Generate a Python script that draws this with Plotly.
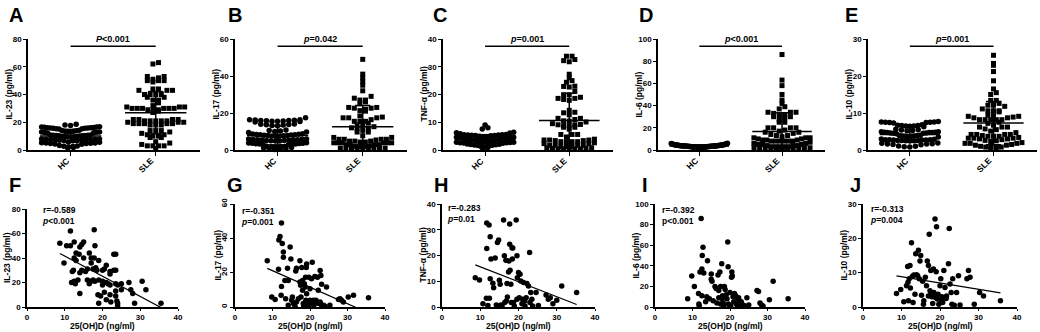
import numpy as np
import plotly.graph_objects as go

# ------------------------------------------------------------------ data
cats = ["HC", "SLE"]

hc_il23 = [18.5, 18.0, 17.6,
           16.5, 16.2, 15.9, 15.6, 16.8, 15.3, 16.0, 16.4, 15.1, 15.8, 16.6, 15.4, 16.1, 15.7,
           13.8, 13.2, 12.9, 13.5, 12.6, 14.0, 13.0, 12.3, 13.6, 12.8, 13.3, 12.5, 14.2,
           10.8, 10.3, 9.9, 10.5, 9.6, 10.9, 10.1, 9.4, 10.6, 9.8, 10.2, 9.5, 10.7, 9.7, 10.4,
           7.9, 7.4, 7.0, 7.6, 6.8, 8.0, 7.2, 6.6, 7.8, 7.1, 7.5, 6.9, 7.7,
           5.5, 5.0, 4.6, 5.3, 4.4, 5.7, 4.9, 4.2, 5.1, 4.7,
           2.9, 2.5, 2.1, 3.2, 1.8, 2.7, 1.5]
hc_il17 = [17.5,
           16.0, 15.8, 15.6, 16.2, 15.4, 16.4, 15.9, 15.2, 16.1, 15.7, 15.5, 16.3,
           13.8, 13.5, 13.2, 14.0, 13.6, 13.1, 13.9,
           10.5, 10.0, 9.7, 10.3, 9.4, 10.8,
           8.4, 8.0, 7.8, 8.2, 7.6, 8.6, 7.9, 8.1, 7.7, 8.3, 7.5, 8.5, 7.4, 8.8,
           5.8, 5.5, 5.2, 5.6, 5.0, 5.9, 5.3, 5.4, 5.1, 5.7, 4.9, 6.0, 4.8, 5.5,
           3.6, 3.4, 3.2, 3.8, 3.0, 3.5, 3.3, 3.7, 3.1, 3.9, 2.9,
           1.8, 1.6, 1.4, 2.0, 1.2, 1.9, 1.5, 1.7,
           0.5, 0.3, 0.6, 0.4]
hc_tnf = [9.0, 8.0, 7.6, 6.4, 6.1, 5.9, 6.2,
          5.4, 5.2, 5.5, 5.0, 5.3, 5.6, 5.1, 5.4, 5.2, 5.5,
          4.6, 4.4, 4.2, 4.7, 4.3, 4.5, 4.1, 4.8, 4.4, 4.6, 4.0, 4.3, 4.5, 4.2,
          3.8, 3.6, 3.4, 3.9, 3.5, 3.7, 3.3, 3.6, 3.8, 3.2, 3.5, 3.7, 3.4, 3.6,
          3.0, 2.8, 2.6, 3.1, 2.7, 2.9, 2.5, 3.0, 2.8, 2.6, 2.4, 2.9,
          2.0, 1.8, 1.6, 2.2, 1.5, 1.9, 1.7, 2.1,
          1.2, 0.9, 1.0, 0.8]
hc_il6 = [6.0, 5.8, 5.5, 5.3, 5.1, 4.9, 4.8, 4.7, 4.6, 4.5, 4.4, 4.3, 4.2, 4.1, 4.0,
          4.0, 3.9, 3.8, 3.8, 3.7, 3.6, 3.6, 3.5, 3.5, 3.4, 3.4, 3.3, 3.3, 3.2, 3.2,
          3.1, 3.1, 3.0, 3.0, 2.9, 2.9, 2.8, 2.8, 2.7, 2.7, 2.6, 2.6, 2.5, 2.5, 2.4,
          4.5, 4.2, 3.9, 3.7, 3.5, 3.3, 3.1, 2.9, 2.7, 2.5, 5.6, 5.2, 4.8, 4.4, 4.1,
          3.9, 3.7, 3.4, 3.2, 3.0, 2.8, 2.6, 2.4, 2.2, 2.0, 1.8]
hc_il10 = [7.6, 7.5, 7.4, 7.7, 7.3, 7.6, 7.5, 7.4,
           6.6, 6.5, 6.4, 6.7, 6.3, 6.6, 6.5, 6.8,
           5.6, 5.4, 5.2, 5.5, 5.3,
           4.8, 4.7, 4.6, 4.9, 4.5, 4.7, 4.8, 4.6, 4.4, 4.9, 4.5, 4.7,
           3.9, 3.8, 3.7, 4.0, 3.6, 3.8, 3.9, 3.7, 3.5,
           2.8, 2.7, 2.6, 2.9, 2.5, 2.7, 2.8, 2.6, 2.4, 3.0, 2.5, 2.7, 2.6, 2.8,
           1.8, 1.6, 1.5, 1.9, 1.4, 1.7, 1.6,
           1.0, 0.9, 0.8, 1.1]

# SLE patients: 25(OH)D (ng/ml) and cytokine level, per correlation panel
vd_f = [8.7, 9.8, 10.5, 11.5, 11.5, 11.8, 12.0, 12.3, 12.5, 12.5, 12.8, 13.0, 13.0, 13.5,
        13.8, 14.0, 14.0, 14.5, 14.5, 15.0, 15.0, 15.5, 16.0, 16.5, 16.5, 17.0, 17.0, 17.5,
        17.8, 17.8, 18.0, 18.0, 18.2, 18.5, 18.8, 19.0, 19.0, 19.0, 19.5, 20.0, 20.0, 20.0,
        20.5, 20.5, 21.0, 21.0, 21.0, 21.5, 22.0, 22.0, 22.0, 22.0, 22.2, 23.0, 23.0, 23.5,
        23.5, 23.5, 23.5, 23.5, 23.8, 24.0, 24.0, 25.0, 25.0, 27.0, 27.5, 28.0, 28.5, 30.5,
        31.5, 35.5, 16.0, 12.5, 14.0, 17.5, 24.0, 17.0]
il23 = [52, 36, 50, 62, 50, 20, 29, 30, 53, 40, 19, 44, 38, 22,
        43, 11, 28, 30, 51, 53, 40, 29, 22, 19, 44, 40, 36, 22,
        63, 40, 50, 21, 32, 30, 10, 38, 22, 3, 9, 21, 30, 18,
        12, 31, 34, 20, 6, 19, 18, 10, 29, 27, 4, 43, 30, 30,
        43, 13, 9, 19, 5, 3, 1, 14, 19, 20, 14, 11, 3, 21,
        14, 3, 31, 21, 49, 31, 18, 21]

vd_g = [8.6, 9.8, 10.7, 11.6, 11.7, 12.0, 12.3, 12.4, 12.4, 12.6, 12.9, 12.9, 13.3, 13.5,
        14.0, 14.2, 14.7, 14.9, 15.1, 15.3, 15.6, 16.0, 16.2, 16.4, 16.4, 16.9, 17.3, 17.3,
        17.5, 17.6, 17.8, 18.0, 18.0, 18.2, 18.3, 18.5, 18.7, 18.8, 18.9, 19.1, 19.1, 19.4,
        19.6, 19.7, 20.0, 20.0, 20.3, 20.4, 20.6, 20.9, 21.0, 21.3, 21.6, 21.8, 22.0, 22.2,
        22.4, 22.7, 22.7, 22.9, 23.1, 23.1, 23.6, 24.0, 24.4, 25.3, 27.6, 28.0, 28.4, 28.9,
        30.2, 31.6, 35.6, 14.2, 19.0]
il17 = [27.0, 5.8, 4.3, 22.0, 39.0, 41.0, 6.8, 12.0, 49.0, 37.0, 32.0, 29.0, 15.5, 4.8,
        22.6, 1.0, 35.0, 28.0, 3.9, 5.8, 2.0, 0.4, 21.0, 22.6, 2.9, 4.8, 27.0, 14.5,
        12.6, 5.8, 23.0, 15.5, 9.7, 2.0, 0.6, 13.5, 11.6, 17.4, 3.9, 25.0, 7.7, 2.9,
        1.0, 17.4, 10.6, 3.9, 2.0, 16.4, 26.0, 3.9, 1.0, 17.8, 3.9, 2.3, 17.4, 9.7,
        2.0, 21.3, 2.9, 18.4, 13.2, 1.0, 1.0, 0.4, 11.6, 1.0, 4.3, 4.8, 3.9, 2.9,
        5.8, 6.8, 5.4, 15.5, 23.0]

vd_h = [8.7, 9.8, 10.7, 11.6, 11.7, 11.7, 12.0, 12.3, 12.4, 12.6, 12.6, 12.8, 13.3, 13.5,
        13.9, 14.2, 14.5, 14.5, 14.8, 15.0, 15.2, 15.4, 15.7, 16.1, 16.3, 16.4, 16.7, 16.8,
        17.0, 17.1, 17.4, 17.5, 17.7, 17.7, 17.8, 18.0, 18.1, 18.3, 18.4, 18.5, 18.7, 18.9,
        19.4, 19.6, 19.6, 19.7, 20.0, 20.2, 20.4, 20.6, 20.9, 21.1, 21.3, 21.6, 21.7, 22.0,
        22.2, 22.6, 22.9, 23.0, 23.2, 23.5, 23.7, 24.6, 25.2, 27.2, 27.8, 28.3, 29.0, 30.0,
        31.3, 35.2]
tnf = [11.4, 10.5, 1.3, 3.4, 32.6, 22.7, 0.6, 31.8, 3.4, 27.3, 11.0, 18.6, 9.2, 7.5,
       19.0, 0.8, 0.4, 25.0, 26.0, 10.4, 8.8, 0.8, 0.4, 33.8, 19.9, 1.7, 18.2, 2.3,
       9.1, 3.9, 13.6, 17.9, 32.2, 24.4, 14.3, 8.8, 1.7, 23.0, 18.6, 22.9, 1.7, 0.4,
       33.8, 19.9, 3.0, 11.4, 13.4, 3.6, 12.7, 10.1, 1.3, 3.0, 9.5, 2.3, 0.4, 3.6,
       9.1, 8.2, 21.2, 1.7, 5.6, 3.0, 0.4, 5.6, 0.6, 4.7, 3.0, 3.6, 1.3, 2.6,
       8.2, 5.6]

vd_i = [8.7, 9.8, 10.5, 11.6, 11.7, 11.8, 12.0, 12.3, 12.5, 12.5, 12.6, 12.8, 13.0, 13.5,
        13.8, 14.0, 14.5, 15.0, 15.0, 15.2, 15.5, 16.0, 16.3, 16.5, 16.8, 17.0, 17.0, 17.3,
        17.5, 17.5, 17.8, 17.9, 18.0, 18.2, 18.3, 18.5, 18.7, 19.0, 19.2, 19.4, 19.5, 19.6,
        19.8, 20.0, 20.2, 20.4, 20.5, 20.6, 20.8, 21.0, 21.2, 21.5, 21.7, 22.0, 22.0, 22.3,
        22.5, 22.8, 23.0, 23.2, 23.5, 24.0, 24.5, 25.0, 27.2, 27.6, 28.0, 28.4, 28.8, 30.5,
        31.5, 35.5]
il6 = [8, 30, 20, 13, 3, 1, 34, 86, 37, 11, 50, 58, 33, 5,
       10, 45, 8, 32, 27, 25, 6, 20, 18, 4, 31, 16, 9, 34,
       20, 3, 42, 8, 11, 4, 1, 20, 17, 12, 8, 63, 39, 3,
       2, 14, 1, 29, 34, 30, 10, 5, 13, 11, 3, 8, 1, 9,
       6, 3, 5, 1, 2, 1, 9, 2, 16, 15, 4, 2, 1, 7,
       25, 8]

vd_j = [8.7, 9.8, 10.6, 11.3, 11.6, 11.7, 11.8, 12.0, 12.2, 12.3, 12.6, 12.8, 13.0, 13.2,
        13.5, 13.7, 13.9, 14.2, 14.4, 14.6, 14.8, 15.0, 15.2, 15.5, 15.7, 15.8, 16.2, 16.5,
        16.7, 17.0, 17.0, 17.2, 17.4, 17.6, 17.7, 17.9, 18.1, 18.3, 18.4, 18.7, 18.8, 19.0,
        19.1, 19.3, 19.5, 19.7, 20.0, 20.2, 20.3, 20.5, 20.7, 20.9, 21.0, 21.3, 21.6, 21.7,
        22.2, 22.4, 22.6, 22.9, 23.1, 23.3, 23.7, 24.3, 24.8, 25.2, 27.0, 27.4, 27.8, 28.9,
        30.3, 31.3, 35.7]
il10 = [3.9, 5.1, 1.5, 6.2, 11.8, 7.2, 1.8, 8.2, 12.1, 5.5, 18.7, 8.9, 1.3, 9.3,
        3.7, 15.5, 9.4, 9.1, 16.5, 8.2, 13.4, 15.0, 3.4, 7.5, 0.8, 1.8, 8.7, 6.2,
        13.4, 12.1, 3.2, 21.2, 4.7, 10.6, 3.7, 3.0, 1.0, 11.1, 4.2, 25.6, 2.8, 10.3,
        23.4, 2.3, 3.7, 0.8, 6.2, 8.2, 2.0, 3.0, 1.3, 2.6, 10.6, 5.7, 2.5, 3.2,
        12.6, 22.9, 6.7, 4.2, 0.8, 8.2, 0.5, 4.2, 9.1, 0.6, 8.2, 10.6, 8.7, 0.8,
        4.2, 3.2, 1.8]

# ------------------------------------------------------------------ layout helpers
W, H = 1040, 332
FONT = "Liberation Sans, Arial, Helvetica, sans-serif"


def xd(a, b):
    return [a / W, b / W]


def yd(top, bottom):
    return [1 - bottom / H, 1 - top / H]


def px_x(a):
    return a / W


def px_y(b):
    return 1 - b / H


def aid(k):
    return "" if k == 1 else str(k)


def swarm(vals, center, ymax, px_unit_x, plot_h=111.0):
    vals = np.asarray(vals, float)
    dy = ymax * 5.2 / plot_h
    dx = 5.6 / px_unit_x
    maxhalf = 0.34
    bins = np.round(vals / dy).astype(int)
    xs = np.zeros_like(vals)
    for b in np.unique(bins):
        idx = np.where(bins == b)[0]
        idx = idx[np.argsort(vals[idx])]
        n = len(idx)
        step = dx if (n - 1) * dx <= 2 * maxhalf else 2 * maxhalf / max(n - 1, 1)
        offs = (np.arange(n) - (n - 1) / 2) * step
        offs = offs[np.argsort(np.abs(offs), kind="stable")]
        xs[idx] = center + offs
    return xs


top_panels = [
    dict(hc=hc_il23, sle=il23, ymax=80, dtick=20, title="IL-23 (pg/ml)",
         p="<i>P</i>&lt;0.001", x0=28, x1=200, letter="A", lx=7, tx=8),
    dict(hc=hc_il17, sle=il17, ymax=60, dtick=20, title="IL-17 (pg/ml)",
         p="<i>p</i>=0.042", x0=235, x1=407, letter="B", lx=226, tx=215),
    dict(hc=hc_tnf, sle=tnf, ymax=40, dtick=10, title="TNF-α (pg/ml)",
         p="<i>p</i>=0.001", x0=443, x1=613, letter="C", lx=431, tx=423),
    dict(hc=hc_il6, sle=il6, ymax=100, dtick=20, title="IL-6 (pg/ml)",
         p="<i>p</i>&lt;0.001", x0=658, x1=825, letter="D", lx=637, tx=638),
    dict(hc=hc_il10, sle=il10, ymax=30, dtick=10, title="IL-10 (pg/ml)",
         p="<i>p</i>=0.001", x0=868, x1=1037, letter="E", lx=843, tx=848),
]

bottom_panels = [
    dict(x=vd_f, y=il23, ymax=80, dtick=20, title="IL-23 (pg/ml)", r="r=-0.589",
         p="<i>p</i>&lt;0.001", x0=27, x1=178, top=209, fit=True, letter="F", lx=7,
         yang=0, tx=7, rx=40, ry=209),
    dict(x=vd_g, y=il17, ymax=60, dtick=20, title="IL-17 (pg/ml)", r="r=-0.351",
         p="<i>p</i>=0.001", x0=235, x1=385, top=204, fit=True, letter="G", lx=225,
         yang=-90, tx=217, rx=239, ry=210),
    dict(x=vd_h, y=tnf, ymax=40, dtick=10, title="TNF-α (pg/ml)", r="r=-0.283",
         p="<i>p</i>=0.01", x0=442, x1=595, top=204, fit=True, letter="H", lx=432,
         yang=0, tx=422, rx=445, ry=207),
    dict(x=vd_i, y=il6, ymax=100, dtick=20, title="IL-6 (pg/ml)", r="r=-0.392",
         p="p&lt;0.001", x0=655, x1=805, top=204, fit=False, letter="I", lx=640,
         yang=0, tx=635, rx=660, ry=209),
    dict(x=vd_j, y=il10, ymax=30, dtick=10, title="IL-10 (pg/ml)", r="r=-0.313",
         p="<i>p</i>=0.004", x0=863, x1=1017, top=204, fit=True, letter="J", lx=848,
         yang=0, tx=843, rx=868, ry=208),
]

fig = go.Figure()
layout = {}
annotations = []
shapes = []

tickfont = dict(family=FONT, size=8, color="black", weight="bold")
TITLE_SIZE = 8.5
XR = [-0.5, 1.52]


def text_ann(x, y, text, size, angle=0, xanchor="center", yanchor="middle"):
    return dict(xref="paper", yref="paper", x=px_x(x), y=px_y(y), text=text,
                showarrow=False, textangle=angle, xanchor=xanchor, yanchor=yanchor,
                font=dict(family=FONT, size=size, color="black"))


for i, p in enumerate(top_panels):
    k = i + 1
    xa, ya = "x" + aid(k), "y" + aid(k)
    px_unit = (p["x1"] - p["x0"]) / (XR[1] - XR[0])
    hc = np.asarray(p["hc"], float)
    sle = np.asarray(p["sle"], float)
    fig.add_trace(go.Scatter(
        x=swarm(hc, 0, p["ymax"], px_unit), y=hc, mode="markers", xaxis=xa, yaxis=ya,
        marker=dict(symbol="circle", size=5.5, color="black"), cliponaxis=False,
        showlegend=False, hoverinfo="y"))
    fig.add_trace(go.Scatter(
        x=swarm(sle, 1, p["ymax"], px_unit), y=sle, mode="markers", xaxis=xa, yaxis=ya,
        marker=dict(symbol="square", size=5, color="black"), cliponaxis=False,
        showlegend=False, hoverinfo="y"))
    # mean +/- SD
    lx, ly = [], []
    for c, v in ((0, hc), (1, sle)):
        m, s = v.mean(), v.std(ddof=1)
        lo = max(m - s, 0)
        lx += [c - 0.36, c + 0.36, None, c, c, None, c - 0.09, c + 0.09, None,
               c - 0.09, c + 0.09, None]
        ly += [m, m, None, lo, m + s, None, m + s, m + s, None, lo, lo, None]
    fig.add_trace(go.Scatter(x=lx, y=ly, mode="lines", xaxis=xa, yaxis=ya,
                             line=dict(color="black", width=1.5), showlegend=False,
                             hoverinfo="skip"))
    layout["xaxis" + aid(k)] = dict(
        domain=xd(p["x0"], p["x1"]), anchor=ya, range=XR, tickmode="array",
        tickvals=[0, 1], showticklabels=False,
        showline=True, linecolor="black", linewidth=1.5, ticks="outside",
        ticklen=4, tickwidth=1.2, tickcolor="black", showgrid=False, zeroline=False)
    layout["yaxis" + aid(k)] = dict(
        domain=yd(39, 150), anchor=xa, range=[0, p["ymax"]], dtick=p["dtick"],
        showline=True, linecolor="black", linewidth=1.5, ticks="outside", ticklen=3,
        tickwidth=1.2, tickcolor="black", showgrid=False, zeroline=False, tickfont=tickfont)
    # rotated category labels, their upper-right end at the tick
    for c, lab in enumerate(cats):
        annotations.append(dict(xref=xa, yref="paper", x=c, y=px_y(153), text=f"<b>{lab}</b>",
                                showarrow=False, textangle=-45, xanchor="right",
                                yanchor="top", xshift=3,
                                font=dict(family=FONT, size=8.5, color="black")))
    annotations.append(text_ann(p["tx"], 94.5, f"<b>{p['title']}</b>", TITLE_SIZE, -90))
    ybar = 0.935 * p["ymax"]
    shapes.append(dict(type="line", xref=xa, yref=ya, x0=0, x1=1, y0=ybar, y1=ybar,
                       line=dict(color="black", width=1.6)))
    annotations.append(dict(xref=xa, yref=ya, x=0.5, y=ybar, yanchor="bottom",
                            text=f"<b>{p['p']}</b>", showarrow=False,
                            font=dict(family=FONT, size=9, color="black")))
    annotations.append(text_ann(p["lx"], 15, f"<b>{p['letter']}</b>", 20,
                                xanchor="left"))

for i, p in enumerate(bottom_panels):
    k = i + 6
    xa, ya = "x" + aid(k), "y" + aid(k)
    x = np.asarray(p["x"], float)
    y = np.asarray(p["y"], float)
    fig.add_trace(go.Scatter(
        x=x, y=y, mode="markers", xaxis=xa, yaxis=ya, cliponaxis=False,
        marker=dict(symbol="circle", size=5.5, color="black"), showlegend=False))
    if p["fit"]:
        b1, b0 = np.polyfit(x, y, 1)
        xf = np.array([x.min(), x.max()])
        fig.add_trace(go.Scatter(x=xf, y=b0 + b1 * xf, mode="lines", xaxis=xa, yaxis=ya,
                                 line=dict(color="black", width=1.2), showlegend=False,
                                 hoverinfo="skip"))
    layout["xaxis" + aid(k)] = dict(
        domain=xd(p["x0"], p["x1"]), anchor=ya, range=[0, 40], dtick=10,
        showline=True, linecolor="black", linewidth=1.5, ticks="outside", ticklen=2,
        tickwidth=1.2, tickcolor="black", showgrid=False, zeroline=False, tickfont=tickfont)
    layout["yaxis" + aid(k)] = dict(
        domain=yd(p["top"], 307), anchor=xa, range=[0, p["ymax"]], dtick=p["dtick"],
        showline=True, linecolor="black", linewidth=1.5, ticks="outside", ticklen=3,
        tickwidth=1.2, tickcolor="black", showgrid=False, zeroline=False, tickfont=tickfont,
        tickangle=p["yang"])
    annotations.append(text_ann(p["tx"], (p["top"] + 307) / 2, f"<b>{p['title']}</b>",
                                TITLE_SIZE, -90))
    annotations.append(text_ann((p["x0"] + p["x1"]) / 2, 326, "<b>25(OH)D (ng/ml)</b>",
                                TITLE_SIZE))
    annotations.append(text_ann(p["rx"], p["ry"] - 6, f"<b>{p['r']}<br>{p['p']}</b>", 8.5,
                                xanchor="left", yanchor="top"))
    annotations[-1]["align"] = "left"
    annotations.append(text_ann(p["lx"], 185, f"<b>{p['letter']}</b>", 20,
                                xanchor="left"))

fig.update_layout(
    width=W, height=H, margin=dict(l=0, r=0, t=0, b=0, autoexpand=False),
    paper_bgcolor="white", plot_bgcolor="white",
    font=dict(family=FONT, color="black"),
    annotations=annotations, shapes=shapes, showlegend=False, **layout)

fig.write_html("out.html", config={"displayModeBar": False},
               post_script="document.body.style.margin='0px';")
